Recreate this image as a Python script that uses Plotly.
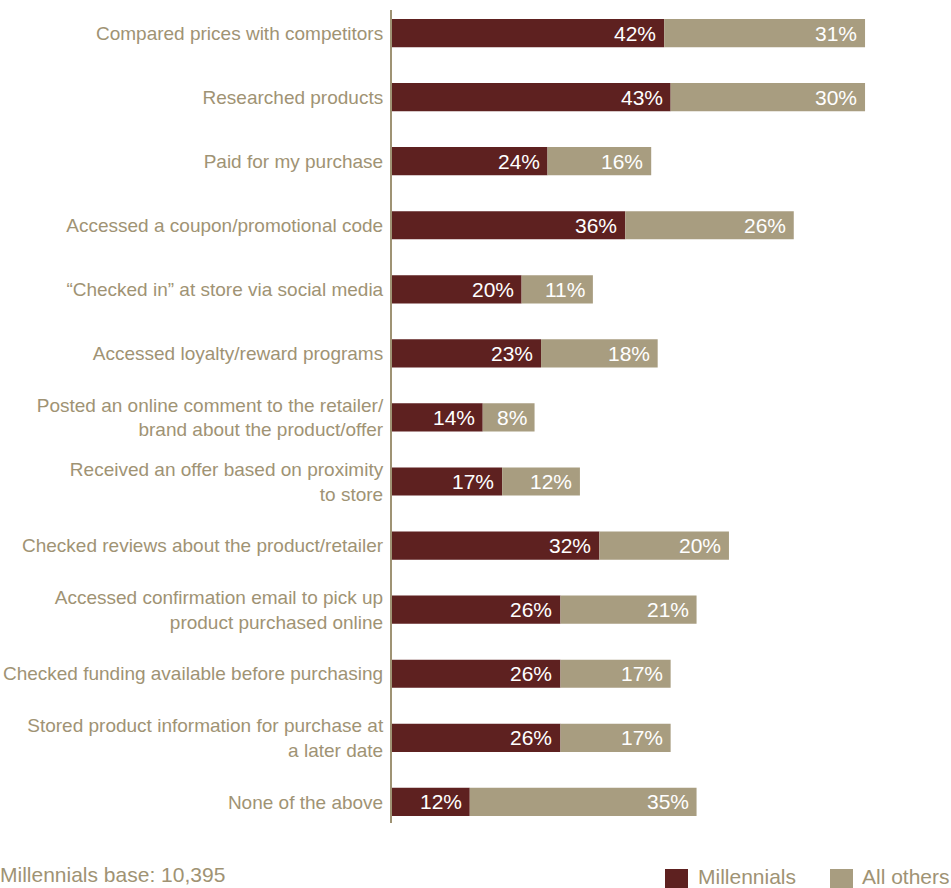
import plotly.graph_objects as go

categories = [
    "Compared prices with competitors",
    "Researched products",
    "Paid for my purchase",
    "Accessed a coupon/promotional code",
    "\u201cChecked in\u201d at store via social media",
    "Accessed loyalty/reward programs",
    "Posted an online comment to the retailer/<br>brand about the product/offer",
    "Received an offer based on proximity<br>to store",
    "Checked reviews about the product/retailer",
    "Accessed confirmation email to pick up<br>product purchased online",
    "Checked funding available before purchasing",
    "Stored product information for purchase at<br>a later date",
    "None of the above",
]
millennials = [42, 43, 24, 36, 20, 23, 14, 17, 32, 26, 26, 26, 12]
all_others = [31, 30, 16, 26, 11, 18, 8, 12, 20, 21, 17, 17, 35]
series_names = ["Millennials", "All others"]
footnote = "Millennials base: 10,395"

DARK = "#5e2120"
TAN = "#a89d80"
LABEL = "#9f9374"
FONT = "Liberation Sans, Arial, Helvetica, sans-serif"

W, H = 951, 888
ML, MR, MT, MB = 392, 10, 10, 65
PW = W - ML - MR
PH = H - MT - MB


def px_x(p):
    return (p - ML) / PW


def px_y(p):
    return (H - MB - p) / PH


ypos = list(range(len(categories)))

fig = go.Figure()
fig.add_trace(go.Bar(
    y=ypos, x=millennials, orientation="h", name=series_names[0],
    marker=dict(color=DARK, line=dict(width=0)), width=0.44,
    hoverinfo="x+name",
))
fig.add_trace(go.Bar(
    y=ypos, x=all_others, base=millennials, orientation="h", name=series_names[1],
    marker=dict(color=TAN, line=dict(width=0)), width=0.44,
    hoverinfo="x+name",
))

annotations = []
for i, (m, o) in enumerate(zip(millennials, all_others)):
    annotations.append(dict(x=m, y=i, xref="x", yref="y", text=f"{m}%",
                            showarrow=False, xanchor="right", yanchor="middle",
                            xshift=-6, font=dict(color="white", size=21, family=FONT)))
    annotations.append(dict(x=m + o, y=i, xref="x", yref="y", text=f"{o}%",
                            showarrow=False, xanchor="right", yanchor="middle",
                            xshift=-6, font=dict(color="white", size=21, family=FONT)))

annotations.append(dict(x=px_x(0), y=px_y(874), xref="paper", yref="paper",
                        text=footnote, showarrow=False, xanchor="left", yanchor="middle",
                        xshift=-2, font=dict(color=LABEL, size=21, family=FONT)))

shapes = []
legend_items = [(665, 698, DARK, series_names[0]), (830, 862, TAN, series_names[1])]
for sx, tx, col, name in legend_items:
    shapes.append(dict(type="rect", xref="paper", yref="paper",
                       x0=px_x(sx), x1=px_x(sx + 23), y0=px_y(869), y1=px_y(892),
                       fillcolor=col, line=dict(width=0)))
    annotations.append(dict(x=px_x(tx), y=px_y(876), xref="paper", yref="paper",
                            text=name, showarrow=False, xanchor="left", yanchor="middle",
                            xshift=-2, font=dict(color=LABEL, size=21, family=FONT)))

fig.update_layout(
    width=W, height=H,
    margin=dict(l=ML, r=MR, t=MT, b=MB, pad=0, autoexpand=False),
    barmode="overlay",
    showlegend=False,
    plot_bgcolor="white", paper_bgcolor="white",
    font=dict(family=FONT, color=LABEL),
    annotations=annotations,
    shapes=shapes,
)
fig.update_xaxes(range=[0, PW / 6.48], visible=False, fixedrange=True, automargin=False)
fig.update_yaxes(
    range=[12.33, -0.36],
    tickvals=ypos, ticktext=categories,
    tickfont=dict(size=19, color=LABEL, family=FONT),
    showline=True, linecolor=LABEL, linewidth=2,
    showgrid=False, zeroline=False, ticks="", ticklabelstandoff=3,
    fixedrange=True, automargin=False,
)

fig.write_html(
    "out.html",
    config={"displayModeBar": False},
    post_script="document.body.style.margin='0';document.body.style.overflow='hidden';",
)
